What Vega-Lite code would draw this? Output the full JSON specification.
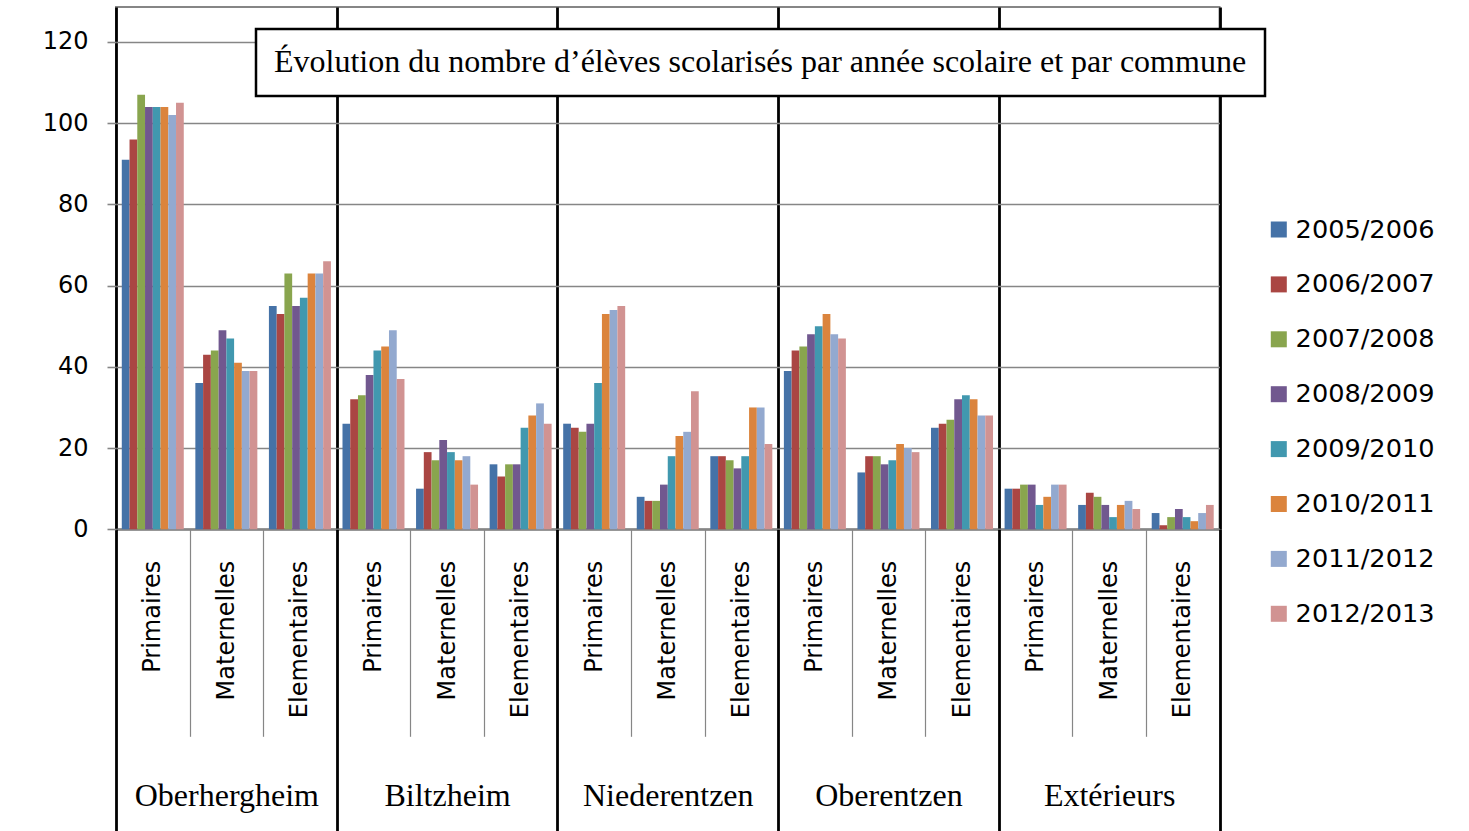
{
 "$schema": "https://vega.github.io/schema/vega-lite/v6.json",
 "width": 1103.5,
 "height": 522.3,
 "autosize": {"type": "none"},
 "padding": {"left": 116, "top": 7, "right": 249.5, "bottom": 301.7},
 "background": "white",
 "config": {"view": {"stroke": "#868686", "strokeWidth": 2}, "font": "DejaVu Sans", "legend": {"strokeWidth": 2.5}},
 "data": {"values": [
  {"commune":"Oberhergheim","type":"Primaires","groupe":"Oberhergheim|Primaires","annee":"2005/2006","eleves":91},
  {"commune":"Oberhergheim","type":"Primaires","groupe":"Oberhergheim|Primaires","annee":"2006/2007","eleves":96},
  {"commune":"Oberhergheim","type":"Primaires","groupe":"Oberhergheim|Primaires","annee":"2007/2008","eleves":107},
  {"commune":"Oberhergheim","type":"Primaires","groupe":"Oberhergheim|Primaires","annee":"2008/2009","eleves":104},
  {"commune":"Oberhergheim","type":"Primaires","groupe":"Oberhergheim|Primaires","annee":"2009/2010","eleves":104},
  {"commune":"Oberhergheim","type":"Primaires","groupe":"Oberhergheim|Primaires","annee":"2010/2011","eleves":104},
  {"commune":"Oberhergheim","type":"Primaires","groupe":"Oberhergheim|Primaires","annee":"2011/2012","eleves":102},
  {"commune":"Oberhergheim","type":"Primaires","groupe":"Oberhergheim|Primaires","annee":"2012/2013","eleves":105},
  {"commune":"Oberhergheim","type":"Maternelles","groupe":"Oberhergheim|Maternelles","annee":"2005/2006","eleves":36},
  {"commune":"Oberhergheim","type":"Maternelles","groupe":"Oberhergheim|Maternelles","annee":"2006/2007","eleves":43},
  {"commune":"Oberhergheim","type":"Maternelles","groupe":"Oberhergheim|Maternelles","annee":"2007/2008","eleves":44},
  {"commune":"Oberhergheim","type":"Maternelles","groupe":"Oberhergheim|Maternelles","annee":"2008/2009","eleves":49},
  {"commune":"Oberhergheim","type":"Maternelles","groupe":"Oberhergheim|Maternelles","annee":"2009/2010","eleves":47},
  {"commune":"Oberhergheim","type":"Maternelles","groupe":"Oberhergheim|Maternelles","annee":"2010/2011","eleves":41},
  {"commune":"Oberhergheim","type":"Maternelles","groupe":"Oberhergheim|Maternelles","annee":"2011/2012","eleves":39},
  {"commune":"Oberhergheim","type":"Maternelles","groupe":"Oberhergheim|Maternelles","annee":"2012/2013","eleves":39},
  {"commune":"Oberhergheim","type":"Elementaires","groupe":"Oberhergheim|Elementaires","annee":"2005/2006","eleves":55},
  {"commune":"Oberhergheim","type":"Elementaires","groupe":"Oberhergheim|Elementaires","annee":"2006/2007","eleves":53},
  {"commune":"Oberhergheim","type":"Elementaires","groupe":"Oberhergheim|Elementaires","annee":"2007/2008","eleves":63},
  {"commune":"Oberhergheim","type":"Elementaires","groupe":"Oberhergheim|Elementaires","annee":"2008/2009","eleves":55},
  {"commune":"Oberhergheim","type":"Elementaires","groupe":"Oberhergheim|Elementaires","annee":"2009/2010","eleves":57},
  {"commune":"Oberhergheim","type":"Elementaires","groupe":"Oberhergheim|Elementaires","annee":"2010/2011","eleves":63},
  {"commune":"Oberhergheim","type":"Elementaires","groupe":"Oberhergheim|Elementaires","annee":"2011/2012","eleves":63},
  {"commune":"Oberhergheim","type":"Elementaires","groupe":"Oberhergheim|Elementaires","annee":"2012/2013","eleves":66},
  {"commune":"Biltzheim","type":"Primaires","groupe":"Biltzheim|Primaires","annee":"2005/2006","eleves":26},
  {"commune":"Biltzheim","type":"Primaires","groupe":"Biltzheim|Primaires","annee":"2006/2007","eleves":32},
  {"commune":"Biltzheim","type":"Primaires","groupe":"Biltzheim|Primaires","annee":"2007/2008","eleves":33},
  {"commune":"Biltzheim","type":"Primaires","groupe":"Biltzheim|Primaires","annee":"2008/2009","eleves":38},
  {"commune":"Biltzheim","type":"Primaires","groupe":"Biltzheim|Primaires","annee":"2009/2010","eleves":44},
  {"commune":"Biltzheim","type":"Primaires","groupe":"Biltzheim|Primaires","annee":"2010/2011","eleves":45},
  {"commune":"Biltzheim","type":"Primaires","groupe":"Biltzheim|Primaires","annee":"2011/2012","eleves":49},
  {"commune":"Biltzheim","type":"Primaires","groupe":"Biltzheim|Primaires","annee":"2012/2013","eleves":37},
  {"commune":"Biltzheim","type":"Maternelles","groupe":"Biltzheim|Maternelles","annee":"2005/2006","eleves":10},
  {"commune":"Biltzheim","type":"Maternelles","groupe":"Biltzheim|Maternelles","annee":"2006/2007","eleves":19},
  {"commune":"Biltzheim","type":"Maternelles","groupe":"Biltzheim|Maternelles","annee":"2007/2008","eleves":17},
  {"commune":"Biltzheim","type":"Maternelles","groupe":"Biltzheim|Maternelles","annee":"2008/2009","eleves":22},
  {"commune":"Biltzheim","type":"Maternelles","groupe":"Biltzheim|Maternelles","annee":"2009/2010","eleves":19},
  {"commune":"Biltzheim","type":"Maternelles","groupe":"Biltzheim|Maternelles","annee":"2010/2011","eleves":17},
  {"commune":"Biltzheim","type":"Maternelles","groupe":"Biltzheim|Maternelles","annee":"2011/2012","eleves":18},
  {"commune":"Biltzheim","type":"Maternelles","groupe":"Biltzheim|Maternelles","annee":"2012/2013","eleves":11},
  {"commune":"Biltzheim","type":"Elementaires","groupe":"Biltzheim|Elementaires","annee":"2005/2006","eleves":16},
  {"commune":"Biltzheim","type":"Elementaires","groupe":"Biltzheim|Elementaires","annee":"2006/2007","eleves":13},
  {"commune":"Biltzheim","type":"Elementaires","groupe":"Biltzheim|Elementaires","annee":"2007/2008","eleves":16},
  {"commune":"Biltzheim","type":"Elementaires","groupe":"Biltzheim|Elementaires","annee":"2008/2009","eleves":16},
  {"commune":"Biltzheim","type":"Elementaires","groupe":"Biltzheim|Elementaires","annee":"2009/2010","eleves":25},
  {"commune":"Biltzheim","type":"Elementaires","groupe":"Biltzheim|Elementaires","annee":"2010/2011","eleves":28},
  {"commune":"Biltzheim","type":"Elementaires","groupe":"Biltzheim|Elementaires","annee":"2011/2012","eleves":31},
  {"commune":"Biltzheim","type":"Elementaires","groupe":"Biltzheim|Elementaires","annee":"2012/2013","eleves":26},
  {"commune":"Niederentzen","type":"Primaires","groupe":"Niederentzen|Primaires","annee":"2005/2006","eleves":26},
  {"commune":"Niederentzen","type":"Primaires","groupe":"Niederentzen|Primaires","annee":"2006/2007","eleves":25},
  {"commune":"Niederentzen","type":"Primaires","groupe":"Niederentzen|Primaires","annee":"2007/2008","eleves":24},
  {"commune":"Niederentzen","type":"Primaires","groupe":"Niederentzen|Primaires","annee":"2008/2009","eleves":26},
  {"commune":"Niederentzen","type":"Primaires","groupe":"Niederentzen|Primaires","annee":"2009/2010","eleves":36},
  {"commune":"Niederentzen","type":"Primaires","groupe":"Niederentzen|Primaires","annee":"2010/2011","eleves":53},
  {"commune":"Niederentzen","type":"Primaires","groupe":"Niederentzen|Primaires","annee":"2011/2012","eleves":54},
  {"commune":"Niederentzen","type":"Primaires","groupe":"Niederentzen|Primaires","annee":"2012/2013","eleves":55},
  {"commune":"Niederentzen","type":"Maternelles","groupe":"Niederentzen|Maternelles","annee":"2005/2006","eleves":8},
  {"commune":"Niederentzen","type":"Maternelles","groupe":"Niederentzen|Maternelles","annee":"2006/2007","eleves":7},
  {"commune":"Niederentzen","type":"Maternelles","groupe":"Niederentzen|Maternelles","annee":"2007/2008","eleves":7},
  {"commune":"Niederentzen","type":"Maternelles","groupe":"Niederentzen|Maternelles","annee":"2008/2009","eleves":11},
  {"commune":"Niederentzen","type":"Maternelles","groupe":"Niederentzen|Maternelles","annee":"2009/2010","eleves":18},
  {"commune":"Niederentzen","type":"Maternelles","groupe":"Niederentzen|Maternelles","annee":"2010/2011","eleves":23},
  {"commune":"Niederentzen","type":"Maternelles","groupe":"Niederentzen|Maternelles","annee":"2011/2012","eleves":24},
  {"commune":"Niederentzen","type":"Maternelles","groupe":"Niederentzen|Maternelles","annee":"2012/2013","eleves":34},
  {"commune":"Niederentzen","type":"Elementaires","groupe":"Niederentzen|Elementaires","annee":"2005/2006","eleves":18},
  {"commune":"Niederentzen","type":"Elementaires","groupe":"Niederentzen|Elementaires","annee":"2006/2007","eleves":18},
  {"commune":"Niederentzen","type":"Elementaires","groupe":"Niederentzen|Elementaires","annee":"2007/2008","eleves":17},
  {"commune":"Niederentzen","type":"Elementaires","groupe":"Niederentzen|Elementaires","annee":"2008/2009","eleves":15},
  {"commune":"Niederentzen","type":"Elementaires","groupe":"Niederentzen|Elementaires","annee":"2009/2010","eleves":18},
  {"commune":"Niederentzen","type":"Elementaires","groupe":"Niederentzen|Elementaires","annee":"2010/2011","eleves":30},
  {"commune":"Niederentzen","type":"Elementaires","groupe":"Niederentzen|Elementaires","annee":"2011/2012","eleves":30},
  {"commune":"Niederentzen","type":"Elementaires","groupe":"Niederentzen|Elementaires","annee":"2012/2013","eleves":21},
  {"commune":"Oberentzen","type":"Primaires","groupe":"Oberentzen|Primaires","annee":"2005/2006","eleves":39},
  {"commune":"Oberentzen","type":"Primaires","groupe":"Oberentzen|Primaires","annee":"2006/2007","eleves":44},
  {"commune":"Oberentzen","type":"Primaires","groupe":"Oberentzen|Primaires","annee":"2007/2008","eleves":45},
  {"commune":"Oberentzen","type":"Primaires","groupe":"Oberentzen|Primaires","annee":"2008/2009","eleves":48},
  {"commune":"Oberentzen","type":"Primaires","groupe":"Oberentzen|Primaires","annee":"2009/2010","eleves":50},
  {"commune":"Oberentzen","type":"Primaires","groupe":"Oberentzen|Primaires","annee":"2010/2011","eleves":53},
  {"commune":"Oberentzen","type":"Primaires","groupe":"Oberentzen|Primaires","annee":"2011/2012","eleves":48},
  {"commune":"Oberentzen","type":"Primaires","groupe":"Oberentzen|Primaires","annee":"2012/2013","eleves":47},
  {"commune":"Oberentzen","type":"Maternelles","groupe":"Oberentzen|Maternelles","annee":"2005/2006","eleves":14},
  {"commune":"Oberentzen","type":"Maternelles","groupe":"Oberentzen|Maternelles","annee":"2006/2007","eleves":18},
  {"commune":"Oberentzen","type":"Maternelles","groupe":"Oberentzen|Maternelles","annee":"2007/2008","eleves":18},
  {"commune":"Oberentzen","type":"Maternelles","groupe":"Oberentzen|Maternelles","annee":"2008/2009","eleves":16},
  {"commune":"Oberentzen","type":"Maternelles","groupe":"Oberentzen|Maternelles","annee":"2009/2010","eleves":17},
  {"commune":"Oberentzen","type":"Maternelles","groupe":"Oberentzen|Maternelles","annee":"2010/2011","eleves":21},
  {"commune":"Oberentzen","type":"Maternelles","groupe":"Oberentzen|Maternelles","annee":"2011/2012","eleves":20},
  {"commune":"Oberentzen","type":"Maternelles","groupe":"Oberentzen|Maternelles","annee":"2012/2013","eleves":19},
  {"commune":"Oberentzen","type":"Elementaires","groupe":"Oberentzen|Elementaires","annee":"2005/2006","eleves":25},
  {"commune":"Oberentzen","type":"Elementaires","groupe":"Oberentzen|Elementaires","annee":"2006/2007","eleves":26},
  {"commune":"Oberentzen","type":"Elementaires","groupe":"Oberentzen|Elementaires","annee":"2007/2008","eleves":27},
  {"commune":"Oberentzen","type":"Elementaires","groupe":"Oberentzen|Elementaires","annee":"2008/2009","eleves":32},
  {"commune":"Oberentzen","type":"Elementaires","groupe":"Oberentzen|Elementaires","annee":"2009/2010","eleves":33},
  {"commune":"Oberentzen","type":"Elementaires","groupe":"Oberentzen|Elementaires","annee":"2010/2011","eleves":32},
  {"commune":"Oberentzen","type":"Elementaires","groupe":"Oberentzen|Elementaires","annee":"2011/2012","eleves":28},
  {"commune":"Oberentzen","type":"Elementaires","groupe":"Oberentzen|Elementaires","annee":"2012/2013","eleves":28},
  {"commune":"Extérieurs","type":"Primaires","groupe":"Extérieurs|Primaires","annee":"2005/2006","eleves":10},
  {"commune":"Extérieurs","type":"Primaires","groupe":"Extérieurs|Primaires","annee":"2006/2007","eleves":10},
  {"commune":"Extérieurs","type":"Primaires","groupe":"Extérieurs|Primaires","annee":"2007/2008","eleves":11},
  {"commune":"Extérieurs","type":"Primaires","groupe":"Extérieurs|Primaires","annee":"2008/2009","eleves":11},
  {"commune":"Extérieurs","type":"Primaires","groupe":"Extérieurs|Primaires","annee":"2009/2010","eleves":6},
  {"commune":"Extérieurs","type":"Primaires","groupe":"Extérieurs|Primaires","annee":"2010/2011","eleves":8},
  {"commune":"Extérieurs","type":"Primaires","groupe":"Extérieurs|Primaires","annee":"2011/2012","eleves":11},
  {"commune":"Extérieurs","type":"Primaires","groupe":"Extérieurs|Primaires","annee":"2012/2013","eleves":11},
  {"commune":"Extérieurs","type":"Maternelles","groupe":"Extérieurs|Maternelles","annee":"2005/2006","eleves":6},
  {"commune":"Extérieurs","type":"Maternelles","groupe":"Extérieurs|Maternelles","annee":"2006/2007","eleves":9},
  {"commune":"Extérieurs","type":"Maternelles","groupe":"Extérieurs|Maternelles","annee":"2007/2008","eleves":8},
  {"commune":"Extérieurs","type":"Maternelles","groupe":"Extérieurs|Maternelles","annee":"2008/2009","eleves":6},
  {"commune":"Extérieurs","type":"Maternelles","groupe":"Extérieurs|Maternelles","annee":"2009/2010","eleves":3},
  {"commune":"Extérieurs","type":"Maternelles","groupe":"Extérieurs|Maternelles","annee":"2010/2011","eleves":6},
  {"commune":"Extérieurs","type":"Maternelles","groupe":"Extérieurs|Maternelles","annee":"2011/2012","eleves":7},
  {"commune":"Extérieurs","type":"Maternelles","groupe":"Extérieurs|Maternelles","annee":"2012/2013","eleves":5},
  {"commune":"Extérieurs","type":"Elementaires","groupe":"Extérieurs|Elementaires","annee":"2005/2006","eleves":4},
  {"commune":"Extérieurs","type":"Elementaires","groupe":"Extérieurs|Elementaires","annee":"2006/2007","eleves":1},
  {"commune":"Extérieurs","type":"Elementaires","groupe":"Extérieurs|Elementaires","annee":"2007/2008","eleves":3},
  {"commune":"Extérieurs","type":"Elementaires","groupe":"Extérieurs|Elementaires","annee":"2008/2009","eleves":5},
  {"commune":"Extérieurs","type":"Elementaires","groupe":"Extérieurs|Elementaires","annee":"2009/2010","eleves":3},
  {"commune":"Extérieurs","type":"Elementaires","groupe":"Extérieurs|Elementaires","annee":"2010/2011","eleves":2},
  {"commune":"Extérieurs","type":"Elementaires","groupe":"Extérieurs|Elementaires","annee":"2011/2012","eleves":4},
  {"commune":"Extérieurs","type":"Elementaires","groupe":"Extérieurs|Elementaires","annee":"2012/2013","eleves":6}
 ]},
 "encoding": {
  "y": {"field": "eleves", "type": "quantitative",
   "scale": {"domain": [0, 128.6], "nice": false, "zero": true},
   "axis": {"values": [0, 20, 40, 60, 80, 100, 120], "title": null, "domain": false, "grid": true,
    "gridColor": "#868686", "gridWidth": 1.6, "tickColor": "#868686", "tickWidth": 1.6, "tickSize": 9,
    "labelFont": "DejaVu Sans", "labelFontSize": 24, "labelColor": "#000", "labelPadding": 19}}
 },
 "layer": [
  {
   "mark": {"type": "bar"},
   "encoding": {
    "x": {"field": "groupe", "type": "nominal", "sort": null,
     "scale": {"paddingInner": 0, "paddingOuter": 0},
     "axis": {"title": null, "orient": "bottom", "tickBand": "extent", "tickSize": 207,
      "tickColor": "#868686", "tickWidth": 1.2, "domainColor": "#868686", "domainWidth": 2,
      "labelAngle": -90, "labelExpr": "split(datum.value, '|')[1]", "labelFont": "DejaVu Sans",
      "labelFontSize": 24, "labelColor": "#000", "labelPadding": -176,
      "labelOverlap": false, "labelBound": false, "labelFlush": false, "labelLimit": 0, "grid": false}},
    "xOffset": {"field": "annee", "type": "nominal", "sort": null, "scale": {"paddingInner": 0, "paddingOuter": 0.747}},
    "color": {"field": "annee", "type": "nominal", "sort": null,
     "scale": {"domain": ["2005/2006", "2006/2007", "2007/2008", "2008/2009", "2009/2010", "2010/2011", "2011/2012", "2012/2013"],
      "range": ["#4572A7", "#AA4643", "#89A54E", "#71588F", "#4198AF", "#DB843D", "#93A9CF", "#D19392"]},
     "legend": {"title": null, "orient": "none", "legendX": 1150, "legendY": 209.7, "symbolType": "square",
      "symbolSize": 256, "symbolStrokeWidth": 0, "labelFont": "DejaVu Sans", "labelFontSize": 25.6,
      "labelColor": "#000", "labelOffset": 4, "rowPadding": 27.9, "labelLimit": 300}}
   }
  },
  {
   "mark": {"type": "point", "opacity": 0},
   "encoding": {
    "x": {"field": "commune", "type": "nominal", "sort": null,
     "scale": {"paddingInner": 0, "paddingOuter": 0},
     "axis": {"title": null, "orient": "bottom", "tickBand": "extent", "grid": true,
      "gridColor": "#000", "gridWidth": 2.8, "tickColor": "#000", "tickWidth": 2.8, "tickSize": 302,
      "domain": false, "labelAngle": 0, "labelFont": "Liberation Serif", "labelFontSize": 32,
      "labelColor": "#000", "labelBaseline": "alphabetic", "labelPadding": -26.3, "labelLimit": 0,
      "labelBound": false, "labelOverlap": false, "labelFlush": false}},
    "shape": {"datum": "titre",
     "legend": {"title": "Évolution du nombre d’élèves scolarisés par année scolaire et par commune",
      "values": [], "orient": "none", "legendX": 140, "legendY": 22,
      "titleFont": "Liberation Serif", "titleFontSize": 32, "titleFontWeight": "normal", "titleColor": "#000",
      "titleLimit": 2000, "titlePadding": 0, "padding": 18, "strokeColor": "#000", "fillColor": "#fff"}}
   }
  }
 ],
 "resolve": {"scale": {"x": "independent"}, "axis": {"x": "independent"}}
}
